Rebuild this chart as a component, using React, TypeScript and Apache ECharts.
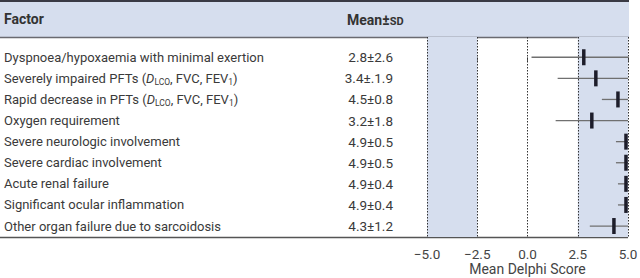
import React, { useEffect, useRef } from "react";
import * as echarts from "echarts";

const factorLabels = [
  "Dyspnoea/hypoxaemia with minimal exertion",
  "Severely impaired PFTs ({i|D}{sub|LCO}, FVC, FEV{sub|1})",
  "Rapid decrease in PFTs ({i|D}{sub|LCO}, FVC, FEV{sub|1})",
  "Oxygen requirement",
  "Severe neurologic involvement",
  "Severe cardiac involvement",
  "Acute renal failure",
  "Significant ocular inflammation",
  "Other organ failure due to sarcoidosis",
];
const meanSdLabels = ["2.8±2.6", "3.4±.1.9", "4.5±0.8", "3.2±1.8", "4.9±0.5", "4.9±0.5", "4.9±0.4", "4.9±0.4", "4.3±1.2"];
const means = [2.8, 3.4, 4.5, 3.2, 4.9, 4.9, 4.9, 4.9, 4.3];
const sds = [2.6, 1.9, 0.8, 1.8, 0.5, 0.5, 0.4, 0.4, 1.2];
const xTicks = [-5, -2.5, 0, 2.5, 5];
const shadedBands = [[-5, -2.5], [2.5, 5]];
const headerFactor = "Factor";
const headerMean = "{b|Mean±}{sc|SD}";
const axisTitle = "Mean Delphi Score";

const FONT = "Roboto, 'Liberation Sans', Arial, sans-serif";
const TEXT = "#3a3a3a";
const BLUE = "#d6deee";

export default function App() {
  const ref = useRef<HTMLDivElement>(null);
  useEffect(() => {
    const chart = echarts.init(ref.current!, null, { renderer: "svg" });
    const X_MIN = -5, X_MAX = 5;
    const richRow = {
      i: { fontStyle: "italic", fontSize: 13, fontFamily: FONT, fill: TEXT, lineHeight: 17 },
      sub: { fontSize: 8.5, fontFamily: FONT, fill: TEXT, lineHeight: 8, verticalAlign: "bottom" },
    };
    chart.setOption({
      animation: false,
      textStyle: { fontFamily: FONT },
      grid: { left: 427, right: 12, top: 37, bottom: 41, outerBoundsMode: "none", containLabel: false },
      xAxis: {
        type: "value",
        min: X_MIN,
        max: X_MAX,
        interval: 2.5,
        axisLine: { show: false },
        axisTick: { show: true, length: 4, lineStyle: { color: "#555" } },
        splitLine: { show: false },
        axisLabel: {
          color: "#444",
          fontSize: 13.5,
          fontFamily: FONT,
          margin: 10,
          lineHeight: 13,
          formatter: (v: number) => (v < 0 ? "\u2212" + Math.abs(v).toFixed(1) : v.toFixed(1)),
        },
        name: axisTitle,
        nameLocation: "middle",
        nameGap: 25,
        nameMoveOverlap: false,
        nameTextStyle: { color: "#444", fontSize: 14, fontFamily: FONT, lineHeight: 14 },
      },
      yAxis: {
        type: "value",
        inverse: true,
        min: -0.96,
        max: 8.52,
        interval: 0.12,
        show: false,
      },
      graphic: [
        { type: "rect", z: -10, shape: { x: 0, y: 0, width: 629, height: 37 }, style: { fill: BLUE } },
        { type: "rect", z: 1, shape: { x: 0, y: 0, width: 629, height: 2 }, style: { fill: "#3a3a44" } },
        { type: "line", z: 1, shape: { x1: 0, y1: 37.5, x2: 629, y2: 37.5 }, style: { stroke: "#6a6a70", lineWidth: 1.5 } },
        { type: "line", z: 1, shape: { x1: 0, y1: 237.5, x2: 628, y2: 237.5 }, style: { stroke: "#555", lineWidth: 1.5 } },
        {
          type: "text", x: 4, y: 19,
          style: { text: headerFactor, font: `bold 14px ${FONT}`, fill: "#333", verticalAlign: "middle" },
        },
        {
          type: "text", x: 347, y: 19,
          style: {
            text: headerMean, verticalAlign: "middle",
            rich: {
              b: { fontWeight: "bold", fontSize: 14, fontFamily: FONT, fill: "#333", lineHeight: 16, verticalAlign: "bottom" },
              sc: { fontWeight: "bold", fontSize: 11, fontFamily: FONT, fill: "#333", lineHeight: 13, verticalAlign: "bottom" },
            },
          },
        },
      ],
      series: [
        {
          type: "line",
          data: [],
          silent: true,
          z: 0,
          markArea: {
            silent: true,
            itemStyle: { color: BLUE },
            data: shadedBands.map(([a, b]) => [{ xAxis: a }, { xAxis: b }]),
          },
          markLine: {
            silent: true,
            symbol: "none",
            label: { show: false },
            lineStyle: { color: "#333", type: [1.5, 1.5], width: 1 },
            data: xTicks.map((t) => ({ xAxis: t })),
          },
        },
        {
          type: "custom",
          z: 5,
          clip: false,
          data: means.map((m, i) => [m, i, sds[i]]),
          renderItem: (params: any, api: any) => {
            const m = api.value(0), i = api.value(1), sd = api.value(2);
            const lo = Math.max(m - sd, X_MIN), hi = Math.min(m + sd, X_MAX);
            const p1 = api.coord([lo, i]);
            const p2 = api.coord([hi, i]);
            const pm = api.coord([m, i]);
            return {
              type: "group",
              children: [
                { type: "line", shape: { x1: p1[0], y1: p1[1], x2: p2[0], y2: p2[1] }, style: { stroke: "#707070", lineWidth: 1.3 } },
                { type: "rect", shape: { x: pm[0] - 1.75, y: pm[1] - 8, width: 3.5, height: 16 }, style: { fill: "#1d1d2a" } },
              ],
            };
          },
        },
        {
          type: "custom",
          z: 5,
          clip: false,
          silent: true,
          data: factorLabels.map((_, i) => [0, i]),
          renderItem: (params: any, api: any) => {
            const i = api.value(1);
            const p = api.coord([0, i]);
            return {
              type: "group",
              children: [
                {
                  type: "text", x: 4, y: p[1],
                  style: {
                    text: factorLabels[i], fill: TEXT, fontSize: 13, fontFamily: FONT,
                    verticalAlign: "middle", align: "left", lineHeight: 17, rich: richRow,
                  },
                },
                {
                  type: "text", x: 393, y: p[1],
                  style: {
                    text: meanSdLabels[i], fill: TEXT, fontSize: 13.5, fontFamily: FONT,
                    verticalAlign: "middle", align: "right",
                  },
                },
              ],
            };
          },
        },
      ],
    });
    return () => chart.dispose();
  }, []);
  return <div ref={ref} style={{ width: 640, height: 278, position: "absolute", left: 0, top: 0, background: "#fff" }} />;
}
